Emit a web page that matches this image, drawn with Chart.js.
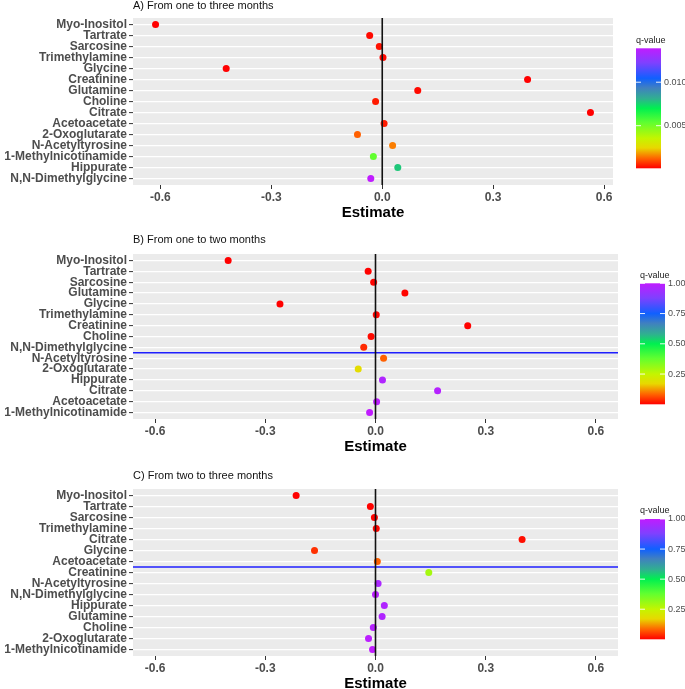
<!DOCTYPE html>
<html>
<head>
<meta charset="utf-8">
<script src="https://cdn.jsdelivr.net/npm/chart.js@4.4.1/dist/chart.umd.min.js"></script>
<style>
  body { margin: 0; background: #fff; }
  #wrap { position: relative; width: 685px; height: 689px; }
  canvas { position: absolute; left: 0; }
</style>
</head>
<body>
<div id="wrap">
  <canvas id="cA" width="685" height="222" style="top:0"></canvas>
  <canvas id="cB" width="685" height="230" style="top:222px"></canvas>
  <canvas id="cC" width="685" height="237" style="top:452px"></canvas>
</div>
<script>
// ---- data ----
const labelsA = ['Myo-Inositol', 'Tartrate', 'Sarcosine', 'Trimethylamine', 'Glycine', 'Creatinine',
  'Glutamine', 'Choline', 'Citrate', 'Acetoacetate', '2-Oxoglutarate', 'N-Acetyltyrosine',
  '1-Methylnicotinamide', 'Hippurate', 'N,N-Dimethylglycine'];
const estA = [-0.613, -0.034, -0.008, 0.002, -0.422, 0.393, 0.096, -0.018, 0.563, 0.005, -0.067, 0.028, -0.024, 0.042, -0.031];
const qA = [0.0001, 0.0002, 0.0003, 0.0002, 0.0001, 0.0001, 0.0002, 0.0004, 0.0001, 0.0004, 0.0012, 0.0015, 0.0053, 0.0077, 0.0139];

const labelsB = ['Myo-Inositol', 'Tartrate', 'Sarcosine', 'Glutamine', 'Glycine', 'Trimethylamine',
  'Creatinine', 'Choline', 'N,N-Dimethylglycine', 'N-Acetyltyrosine', '2-Oxoglutarate', 'Hippurate',
  'Citrate', 'Acetoacetate', '1-Methylnicotinamide'];
const estB = [-0.401, -0.020, -0.005, 0.080, -0.260, 0.002, 0.251, -0.012, -0.032, 0.022, -0.047, 0.019, 0.169, 0.003, -0.016];
const qB = [0.0001, 0.002, 0.003, 0.003, 0.001, 0.004, 0.002, 0.008, 0.035, 0.08, 0.18, 0.97, 0.98, 0.99, 1.0];

const labelsC = ['Myo-Inositol', 'Tartrate', 'Sarcosine', 'Trimethylamine', 'Citrate', 'Glycine',
  'Acetoacetate', 'Creatinine', 'N-Acetyltyrosine', 'N,N-Dimethylglycine', 'Hippurate', 'Glutamine',
  'Choline', '2-Oxoglutarate', '1-Methylnicotinamide'];
const estC = [-0.216, -0.014, -0.003, 0.002, 0.399, -0.166, 0.005, 0.145, 0.007, 0.000, 0.024, 0.018, -0.006, -0.019, -0.008];
const qC = [0.0005, 0.002, 0.003, 0.005, 0.012, 0.04, 0.08, 0.29, 0.96, 0.99, 0.97, 0.97, 0.98, 0.99, 1.0];

// significance cut (between two rows)
const cutB = 8.5;
const cutC = 6.5;

const xTicks = [-0.6, -0.3, 0, 0.3, 0.6];
const qTicksA = [0.005, 0.010];
const qTicksBC = [0.25, 0.50, 0.75, 1.00];

// ---- colour scale ----
const stops = [[0, '#FF0000'], [0.08, '#FF6000'], [0.17, '#E8D800'], [0.25, '#C4F500'], [0.38, '#60FF30'],
  [0.5, '#00F050'], [0.58, '#30B090'], [0.67, '#4080C0'], [0.75, '#1060FF'], [0.88, '#8040FF'], [1, '#C01CFF']];

function hex2rgb(h) { return [1, 3, 5].map(i => parseInt(h.substr(i, 2), 16)); }

function qColor(q, lo, hi) {
  let f = (q - lo) / (hi - lo);
  f = Math.max(0, Math.min(1, f));
  for (let i = 1; i < stops.length; i++) {
    if (f <= stops[i][0]) {
      const [f0, c0] = stops[i - 1], [f1, c1] = stops[i];
      const t = (f - f0) / (f1 - f0);
      const a = hex2rgb(c0), b = hex2rgb(c1);
      return 'rgb(' + a.map((v, k) => Math.round(v + (b[k] - v) * t)).join(',') + ')';
    }
  }
  return stops[stops.length - 1][1];
}

const FONT = "'Liberation Sans', Arial, sans-serif";

function panelPlugin(o) {
  return {
    id: 'panel' + o.id,
    beforeDraw(c) {
      const a = c.chartArea, ctx = c.ctx;
      ctx.save();
      ctx.fillStyle = '#EBEBEB';
      ctx.fillRect(a.left, a.top, a.right - a.left, a.bottom - a.top);
      ctx.restore();
    },
    afterDatasetsDraw(c) {
      const a = c.chartArea, ctx = c.ctx;
      ctx.save();
      if (o.cut != null) {
        const y = c.scales.y.getPixelForValue(o.cut);
        ctx.strokeStyle = '#1F1FFF';
        ctx.lineWidth = 1.6;
        ctx.beginPath(); ctx.moveTo(a.left, y); ctx.lineTo(a.right, y); ctx.stroke();
      }
      const x0 = c.scales.x.getPixelForValue(0);
      ctx.strokeStyle = '#111';
      ctx.lineWidth = 1.6;
      ctx.beginPath(); ctx.moveTo(x0, a.top); ctx.lineTo(x0, a.bottom); ctx.stroke();
      ctx.restore();
    },
    afterDraw(c) {
      const a = c.chartArea, ctx = c.ctx;
      ctx.save();
      // panel title
      ctx.fillStyle = '#111';
      ctx.font = '11px ' + FONT;
      ctx.textBaseline = 'middle';
      ctx.textAlign = 'left';
      ctx.fillText(o.title, a.left, o.titleY);
      // axis title
      ctx.font = 'bold 15px ' + FONT;
      ctx.textAlign = 'center';
      ctx.fillStyle = '#000';
      ctx.fillText('Estimate', (a.left + a.right) / 2, a.bottom + 28);
      // colour bar legend
      const L = o.legend;
      const g = ctx.createLinearGradient(0, L.bottom, 0, L.top);
      stops.forEach(([f, col]) => g.addColorStop(f, col));
      ctx.fillStyle = g;
      ctx.fillRect(L.x, L.top, L.w, L.bottom - L.top);
      ctx.font = '9px ' + FONT;
      ctx.textAlign = 'left';
      ctx.fillStyle = '#222';
      ctx.fillText('q-value', L.x, L.top - 8);
      o.qTicks.forEach(t => {
        const y = L.bottom - (t - o.qMin) / (o.qMax - o.qMin) * (L.bottom - L.top);
        ctx.strokeStyle = 'rgba(255,255,255,0.9)';
        ctx.lineWidth = 1;
        ctx.beginPath();
        ctx.moveTo(L.x, y); ctx.lineTo(L.x + 5, y);
        ctx.moveTo(L.x + L.w - 5, y); ctx.lineTo(L.x + L.w, y);
        ctx.stroke();
        ctx.fillStyle = '#4D4D4D';
        ctx.fillText(t.toFixed(o.qDigits), L.x + L.w + 3, y);
      });
      ctx.restore();
    }
  };
}

function makePanel(o) {
  const n = o.labels.length;
  return new Chart(document.getElementById(o.id), {
    type: 'scatter',
    data: {
      datasets: [{
        data: o.est.map((v, i) => ({ x: v, y: i })),
        backgroundColor: o.q.map(q => qColor(q, o.qMin, o.qMax)),
        borderWidth: 0,
        pointRadius: 3.5,
        pointHoverRadius: 3.5
      }]
    },
    options: {
      responsive: false,
      animation: false,
      layout: { padding: { top: o.top, right: o.right, left: 0, bottom: 0 } },
      plugins: { legend: { display: false }, tooltip: { enabled: false } },
      scales: {
        x: {
          type: 'linear', min: o.xMin, max: o.xMax,
          afterBuildTicks: s => { s.ticks = xTicks.map(v => ({ value: v })); },
          afterFit: s => { s.height = o.axisH; },
          grid: { drawOnChartArea: false, tickLength: 4, tickColor: '#333', tickWidth: 1 },
          border: { display: false },
          ticks: { color: '#4D4D4D', font: { family: FONT, size: 12, weight: 'bold' }, padding: 1,
            maxRotation: 0, callback: v => v.toFixed(1) }
        },
        y: {
          type: 'linear', reverse: true, min: -0.6, max: n - 0.4,
          afterBuildTicks: s => { s.ticks = o.labels.map((l, i) => ({ value: i })); },
          afterFit: s => { s.width = 133; },
          grid: { color: '#FFFFFF', lineWidth: 1.2, tickColor: '#333', tickLength: 4, tickWidth: 1 },
          border: { display: false },
          ticks: { autoSkip: false, color: '#4D4D4D', font: { family: FONT, size: 12, weight: 'bold' },
            padding: 2, callback: v => o.labels[v] }
        }
      }
    },
    plugins: [panelPlugin(o)]
  });
}

makePanel({
  id: 'cA', labels: labelsA, est: estA, q: qA, qMin: 0.0001, qMax: 0.0139, qTicks: qTicksA, qDigits: 3,
  xMin: -0.674, xMax: 0.624, top: 18, right: 72, axisH: 37, cut: null,
  title: 'A) From one to three months', titleY: 6,
  legend: { x: 636, w: 25, top: 48.3, bottom: 168.3 }
});
makePanel({
  id: 'cB', labels: labelsB, est: estB, q: qB, qMin: 0.0, qMax: 1.0, qTicks: qTicksBC, qDigits: 2,
  xMin: -0.66, xMax: 0.66, top: 32, right: 67, axisH: 33, cut: cutB,
  title: 'B) From one to two months', titleY: 18,
  legend: { x: 640, w: 25, top: 61.3, bottom: 182.3 }
});
makePanel({
  id: 'cC', labels: labelsC, est: estC, q: qC, qMin: 0.0, qMax: 1.0, qTicks: qTicksBC, qDigits: 2,
  xMin: -0.66, xMax: 0.66, top: 37, right: 67, axisH: 33, cut: cutC,
  title: 'C) From two to three months', titleY: 24,
  legend: { x: 640, w: 25, top: 67, bottom: 187.3 }
});
</script>
</body>
</html>
